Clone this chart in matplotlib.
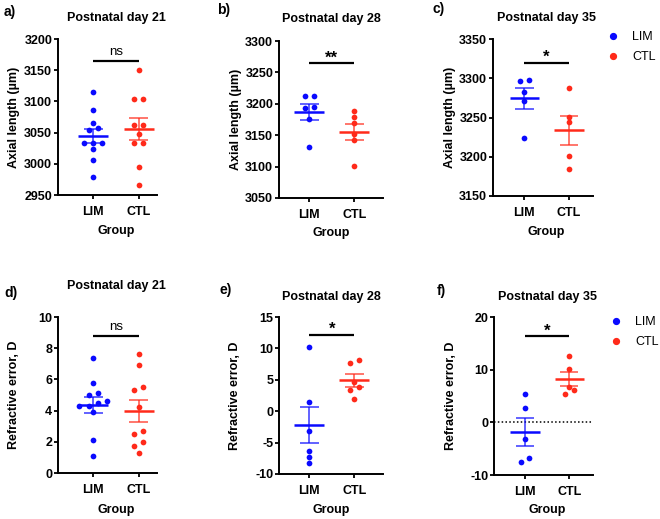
import matplotlib
matplotlib.use("Agg")
import matplotlib.pyplot as plt
from matplotlib.lines import Line2D
import numpy as np

plt.rcParams['font.family'] = ['Liberation Sans', 'DejaVu Sans']

groups = ['LIM', 'CTL']
blue = '#0a0aff'
red = '#ff2a1a'

# axial length (um)
axial_p21_lim = [3115, 3087, 3065, 3058, 3054, 3033, 3033, 3033, 3023, 3006, 2979]
axial_p21_ctl = [3151, 3104, 3104, 3062, 3062, 3047, 3033, 3033, 2995, 2966]
axial_p28_lim = [3212, 3212, 3195, 3193, 3176, 3132]
axial_p28_ctl = [3188, 3179, 3170, 3152, 3142, 3101]
axial_p35_lim = [3298, 3297, 3283, 3271, 3224]
axial_p35_ctl = [3288, 3251, 3244, 3201, 3184]

# refractive error (D)
refr_p21_lim = [7.4, 5.8, 5.1, 5.0, 4.6, 4.5, 4.3, 4.3, 3.9, 2.1, 1.1]
refr_p21_ctl = [7.6, 6.9, 5.5, 5.3, 4.2, 2.7, 2.5, 2.0, 1.7, 1.3]
refr_p28_lim = [10.2, 1.5, -3.1, -6.4, -7.3, -8.2]
refr_p28_ctl = [8.1, 7.6, 4.6, 3.8, 3.3, 2.0]
refr_p35_lim = [5.4, 2.8, -3.1, -6.8, -7.5]
refr_p35_ctl = [12.6, 10.2, 6.8, 6.2, 5.3]

titles = ['Postnatal day 21', 'Postnatal day 28', 'Postnatal day 35']
sig_text = ['ns', '**', '*', 'ns', '*', '*']
sig_level = [3165, 3265, 3320, 8.8, 12.2, 16.3]

W, H = 660, 519
fig = plt.figure(figsize=(W / 100, H / 100), dpi=100)


def fx(x):
    return x / W


def fy(y):
    return 1 - y / H


def swarm(values, bin_h, step=0.2):
    v = np.asarray(values, dtype=float)
    order = np.argsort(v, kind='stable')
    offs = np.zeros(len(v))
    i = 0
    while i < len(order):
        j = i
        while j + 1 < len(order) and v[order[j + 1]] - v[order[i]] < bin_h:
            j += 1
        n = j - i + 1
        for k in range(n):
            offs[order[i + k]] = (k - (n - 1) / 2) * step
        i = j + 1
    return offs


# panel layout in pixels: left, top, right, bottom
panels = [
    dict(letter='a)', rect=(58, 39, 157, 195), xlim=(-0.77, 1.4),
         data=(axial_p21_lim, axial_p21_ctl), ylim=(2950, 3200), yt=np.arange(2950, 3201, 50),
         ylabel='Axial length (µm)', title=titles[0], ty=18.5, gy=231, lpos=(4, 12)),
    dict(letter='b)', rect=(279, 41, 383, 198), xlim=(-0.67, 1.64),
         data=(axial_p28_lim, axial_p28_ctl), ylim=(3050, 3300), yt=np.arange(3050, 3301, 50),
         ylabel='Axial length (µm)', title=titles[1], ty=19, gy=233, lpos=(217, 10)),
    dict(letter='c)', rect=(493, 39, 593, 196), xlim=(-0.7, 1.54),
         data=(axial_p35_lim, axial_p35_ctl), ylim=(3150, 3350), yt=np.arange(3150, 3351, 50),
         ylabel='Axial length (µm)', title=titles[2], ty=18.5, gy=232, lpos=(433, 9),
         legend=(607, 31)),
    dict(letter='d)', rect=(58, 317, 157, 473), xlim=(-0.77, 1.4),
         data=(refr_p21_lim, refr_p21_ctl), ylim=(0, 10), yt=np.arange(0, 11, 2),
         ylabel='Refractive error, D', title=titles[0], ty=286, gy=510, lpos=(4, 293)),
    dict(letter='e)', rect=(279, 317, 383, 474), xlim=(-0.67, 1.64),
         data=(refr_p28_lim, refr_p28_ctl), ylim=(-10, 15), yt=np.arange(-10, 16, 5),
         ylabel='Refractive error, D', title=titles[1], ty=297, gy=510, lpos=(219, 290)),
    dict(letter='f)', rect=(494, 317, 593, 475), xlim=(-0.7, 1.54),
         data=(refr_p35_lim, refr_p35_ctl), ylim=(-10, 20), yt=np.arange(-10, 21, 10),
         ylabel='Refractive error, D', title=titles[2], ty=297, gy=510, lpos=(437, 291),
         legend=(610, 316), zero=True),
]

for idx, p in enumerate(panels):
    l, t, r, b = p['rect']
    ax = fig.add_axes([fx(l), fy(b), fx(r - l), (b - t) / H])
    ax.set_xlim(*p['xlim'])
    ax.set_ylim(*p['ylim'])
    yr = p['ylim'][1] - p['ylim'][0]

    if p.get('zero'):
        ax.axhline(0, color='black', ls=(0, (1, 1.5)), lw=1.1, zorder=1)

    for gi, (vals, col) in enumerate(zip(p['data'], [blue, red])):
        vals = np.asarray(vals, dtype=float)
        offs = swarm(vals, 0.032 * yr)
        ax.scatter(gi + offs, vals, s=17, color=col, linewidths=0, zorder=3)
        m = vals.mean()
        se = vals.std(ddof=1) / np.sqrt(len(vals))
        ax.hlines(m, gi - 0.33, gi + 0.33, color=col, lw=1.8, zorder=4)
        ax.vlines(gi, m - se, m + se, color=col, lw=1.2, alpha=0.75, zorder=4)
        ax.hlines([m - se, m + se], gi - 0.21, gi + 0.21, color=col, lw=1.2, alpha=0.75, zorder=4)

    # significance bar
    sl = sig_level[idx]
    ax.plot([0, 1], [sl, sl], color='black', lw=1.6, clip_on=False, solid_capstyle='butt')
    st = sig_text[idx]
    if st == 'ns':
        ax.annotate(st, xy=(0.5, sl), xytext=(0, 4), textcoords='offset points',
                    ha='center', va='baseline', fontsize=9.5)
    else:
        ax.annotate(st, xy=(0.5, sl), xytext=(0, 0.5), textcoords='offset points',
                    ha='center', va='baseline', fontsize=12, fontweight='bold')

    ax.set_xticks([0, 1])
    ax.set_xticklabels(groups, fontweight='bold', fontsize=9)
    ax.set_yticks(p['yt'])
    ax.set_yticklabels([str(v) for v in p['yt']], fontweight='bold', fontsize=9)
    ax.tick_params(axis='y', length=3, width=1.3, pad=1.2)
    ax.tick_params(axis='x', length=3, width=1.3, pad=5)
    for s in ['top', 'right']:
        ax.spines[s].set_visible(False)
    for s in ['left', 'bottom']:
        ax.spines[s].set_linewidth(1.4)

    # pixel x of the middle between the two groups
    x0, x1 = p['xlim']
    mid = l + (0.5 - x0) / (x1 - x0) * (r - l)
    fig.text(fx(mid), fy(p['ty']), p['title'], ha='center', va='center',
             fontsize=9, fontweight='bold')
    fig.text(fx(mid), fy(p['gy']), 'Group', ha='center', va='center',
             fontsize=9, fontweight='bold')
    fig.text(fx(l - 43.5), fy((t + b) / 2), p['ylabel'], rotation=90,
             ha='center', va='center', fontsize=9, fontweight='bold')
    fig.text(fx(p['lpos'][0]), fy(p['lpos'][1]), p['letter'], ha='left', va='center',
             fontsize=10, fontweight='bold')

    if 'legend' in p:
        handles = [Line2D([], [], marker='o', ls='', color=c, markersize=4.2, label=g)
                   for g, c in zip(groups, [blue, red])]
        lx, ly = p['legend']
        ax.legend(handles=handles, loc='upper left', bbox_to_anchor=(fx(lx), fy(ly)),
                  bbox_transform=fig.transFigure, frameon=False, fontsize=9,
                  handlelength=1.0, handletextpad=1.0, borderpad=0, borderaxespad=0,
                  labelspacing=0.65)

fig.savefig('out.png', dpi=100)
